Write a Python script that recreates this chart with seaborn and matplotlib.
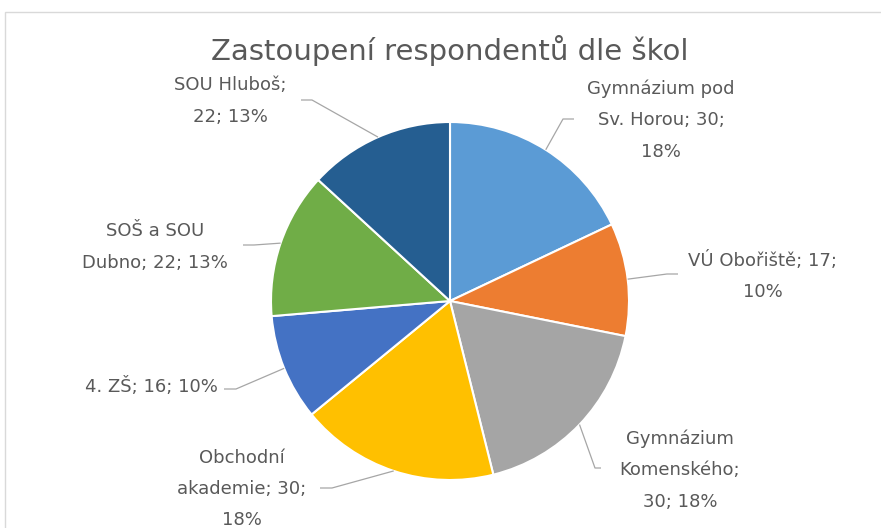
import numpy as np
import matplotlib
matplotlib.use("Agg")
import matplotlib.pyplot as plt
import seaborn as sns
from matplotlib.patches import Rectangle


# ─── Data ─────────────────────────────────────────────────────────────────────
TITLE = "Zastoupení respondentů dle škol"

schools = [
    "Gymnázium pod Sv. Horou",
    "VÚ Obořiště",
    "Gymnázium Komenského",
    "Obchodní akademie",
    "4. ZŠ",
    "SOŠ a SOU Dubno",
    "SOU Hluboš",
]
counts = [30, 17, 30, 30, 16, 22, 22]

# label text as wrapped in the chart ({n} = count, {p} = percent)
label_templates = [
    "Gymnázium pod\nSv. Horou; {n};\n{p}%",
    "VÚ Obořiště; {n};\n{p}%",
    "Gymnázium\nKomenského;\n{n}; {p}%",
    "Obchodní\nakademie; {n};\n{p}%",
    "4. ZŠ; {n}; {p}%",
    "SOŠ a SOU\nDubno; {n}; {p}%",
    "SOU Hluboš;\n{n}; {p}%",
]

colors = ["#5B9BD5", "#ED7D31", "#A5A5A5", "#FFC000", "#4472C4", "#70AD47", "#255E91"]


# ─── Layout (pixels of the 881x528 canvas) ────────────────────────────────────
W, H = 881, 528
CX, CY, R = 450, 301, 179          # pie centre and radius

# text block centres
label_pos = [(661, 120), (763, 276), (680, 470), (242, 489),
             (151, 387), (155, 247), (230, 101)]
# leader line end next to the label, and the elbow before it
leader_end = [(574, 119), (678, 274), (601, 468), (320, 488),
              (224, 389), (243, 245), (301, 100)]
leader_elbow = [(563, 119), (667, 274), (595, 468), (332, 488),
                (236, 389), (254, 245), (312, 100)]


def px(x, y):
    """pixel position -> data coords (pie radius = 1)"""
    return (x - CX) / R, (CY - y) / R


TEXT_COLOR = "#595959"

sns.set_style("white")
plt.rcParams["font.family"] = ["DejaVu Sans"]

fig = plt.figure(figsize=(W / 100, H / 100), dpi=100)
ax = fig.add_axes([0, 0, 1, 1])

total = sum(counts)
wedges, _ = ax.pie(
    counts, colors=colors, startangle=90, counterclock=False,
    radius=1, center=(0, 0),
    wedgeprops=dict(edgecolor="white", linewidth=1.5),
)

ax.set_xlim(px(0, 0)[0], px(W, 0)[0])
ax.set_ylim(px(0, H)[1], px(0, 0)[1])
ax.set_aspect("equal")
ax.axis("off")

# ── data labels with leader lines ────────────────────────────────────────────
for i, w in enumerate(wedges):
    pct = round(counts[i] / total * 100)
    text = label_templates[i].format(n=counts[i], p=pct)
    tx, ty = px(*label_pos[i])
    ax.text(tx, ty, text, ha="center", va="center", fontsize=13,
            color=TEXT_COLOR, linespacing=1.95)

    mid = np.deg2rad((w.theta1 + w.theta2) / 2)
    x0, y0 = np.cos(mid), np.sin(mid)
    ex, ey = px(*leader_elbow[i])
    lx, ly = px(*leader_end[i])
    ax.plot([x0, ex, lx], [y0, ey, ly], color="#A6A6A6", lw=0.9,
            solid_capstyle="butt")

# ── title ────────────────────────────────────────────────────────────────────
tx, ty = px(450, 50)
ax.text(tx, ty, TITLE, ha="center", va="center", fontsize=21, color=TEXT_COLOR)

# chart area border (cut off at right and bottom)
fig.patches.append(Rectangle((5 / W, -0.1), 1.1, 1.1 - 12 / H,
                             transform=fig.transFigure, fill=False,
                             edgecolor="#D9D9D9", lw=1))

fig.savefig("out.png", dpi=100)
plt.close(fig)
